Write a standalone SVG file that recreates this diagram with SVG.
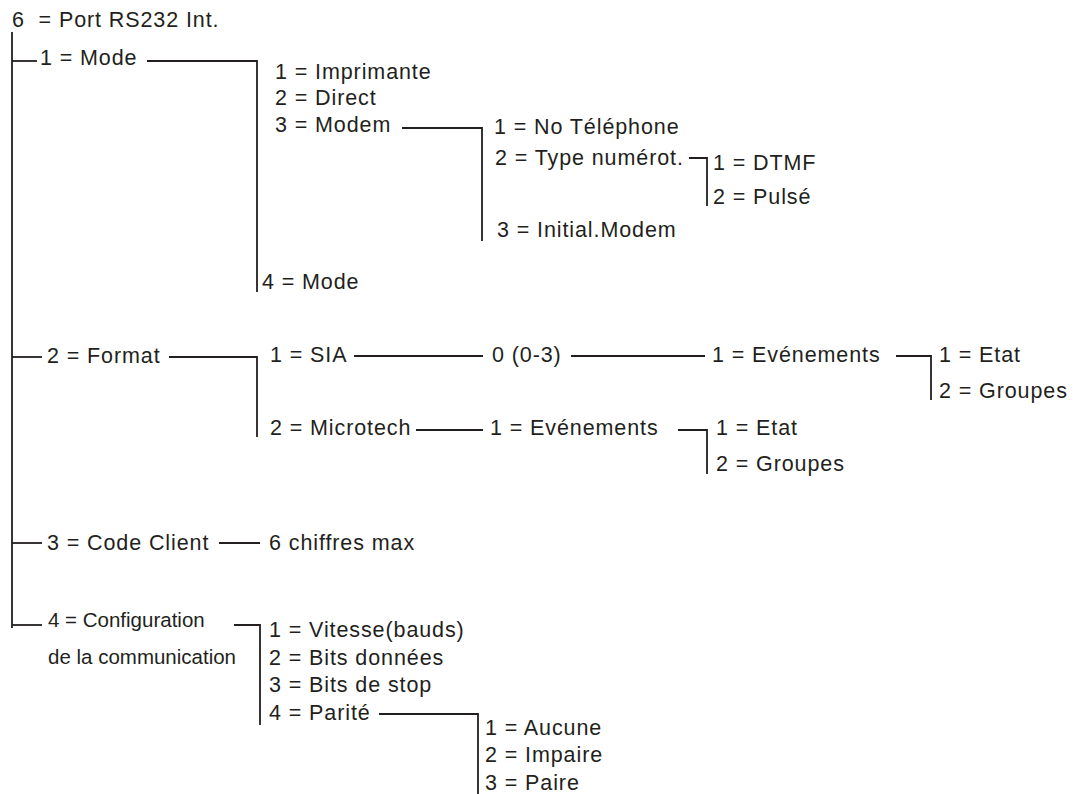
<svg xmlns="http://www.w3.org/2000/svg" width="1075" height="794" viewBox="0 0 1075 794">
<style>
text{font-family:"Liberation Sans",Arial,Helvetica,sans-serif;font-size:21.5px;letter-spacing:0.9px;fill:#231f20}
text.s{font-size:20.5px;letter-spacing:0}
#connectors path{fill:none;stroke:#231f20;stroke-width:1.8}
</style>
<rect width="1075" height="794" fill="#fff"/>
<g id="connectors">
<path d="M12 32V628"/>
<path d="M12 61H37"/>
<path d="M147 61H257V292"/>
<path d="M402 128H482V241"/>
<path d="M689 158H707V206"/>
<path d="M12 357H42"/>
<path d="M169 357H257V437"/>
<path d="M354 356H483"/>
<path d="M571 356H705"/>
<path d="M896 356H931V400"/>
<path d="M416 430H483"/>
<path d="M678 430H707V474"/>
<path d="M12 543H42"/>
<path d="M219 543H260"/>
<path d="M12 625H42"/>
<path d="M234 625H260V725"/>
<path d="M379 714H478V794"/>
</g>
<g id="root"><text x="12" y="27" xml:space="preserve">6  = Port RS232 Int.</text></g>
<g id="mode"><text x="40" y="65">1 = Mode</text></g>
<g id="mode-1"><text x="275" y="79">1 = Imprimante</text></g>
<g id="mode-2"><text x="275" y="105">2 = Direct</text></g>
<g id="mode-3"><text x="275" y="132">3 = Modem</text></g>
<g id="modem-1"><text x="494" y="134">1 = No Téléphone</text></g>
<g id="modem-2"><text x="495" y="165">2 = Type numérot.</text></g>
<g id="dial-1"><text x="713" y="170">1 = DTMF</text></g>
<g id="dial-2"><text x="713" y="204">2 = Pulsé</text></g>
<g id="modem-3"><text x="497" y="237">3 = Initial.Modem</text></g>
<g id="mode-4"><text x="262" y="289">4 = Mode</text></g>
<g id="format"><text x="47" y="363">2 = Format</text></g>
<g id="sia"><text x="270" y="362">1 = SIA</text></g>
<g id="sia-0"><text x="492" y="362">0 (0-3)</text></g>
<g id="sia-ev"><text x="712" y="362">1 = Evénements</text></g>
<g id="sia-etat"><text x="939" y="362">1 = Etat</text></g>
<g id="sia-groupes"><text x="939" y="398">2 = Groupes</text></g>
<g id="microtech"><text x="270" y="435">2 = Microtech</text></g>
<g id="mt-ev"><text x="490" y="435">1 = Evénements</text></g>
<g id="mt-etat"><text x="716" y="435">1 = Etat</text></g>
<g id="mt-groupes"><text x="716" y="471">2 = Groupes</text></g>
<g id="code-client"><text x="47" y="550">3 = Code Client</text></g>
<g id="chiffres"><text x="269" y="550">6 chiffres max</text></g>
<g id="config"><text class="s" x="48" y="627">4 = Configuration</text><text class="s" x="48" y="664">de la communication</text></g>
<g id="cfg-1"><text x="269" y="637">1 = Vitesse(bauds)</text></g>
<g id="cfg-2"><text x="269" y="665">2 = Bits données</text></g>
<g id="cfg-3"><text x="269" y="692">3 = Bits de stop</text></g>
<g id="cfg-4"><text x="269" y="720">4 = Parité</text></g>
<g id="par-1"><text x="485" y="735">1 = Aucune</text></g>
<g id="par-2"><text x="485" y="762">2 = Impaire</text></g>
<g id="par-3"><text x="485" y="790">3 = Paire</text></g>
</svg>
